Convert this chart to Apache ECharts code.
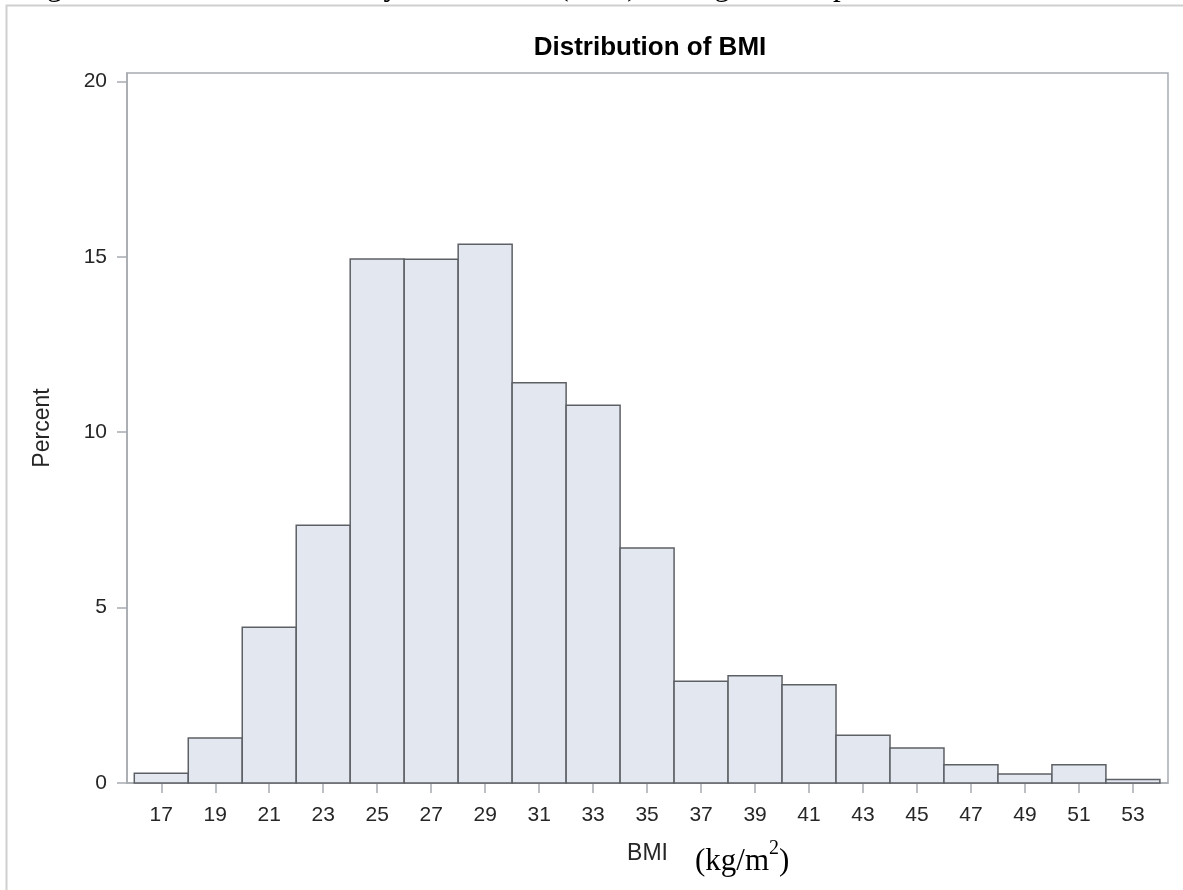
<!DOCTYPE html>
<html>
<head>
<meta charset="utf-8">
<title>Distribution of BMI</title>
<script src="https://cdn.jsdelivr.net/npm/echarts@6/dist/echarts.min.js"></script>
<style>
  html, body { margin: 0; padding: 0; background: #ffffff; }
  #chart { width: 1183px; height: 890px; }
</style>
</head>
<body>
<div id="chart"></div>
<script>
// Histogram bins: midpoints (bin width 2, kg/m^2) and share of subjects in each bin (%)
const binMidpoints = [17, 19, 21, 23, 25, 27, 29, 31, 33, 35, 37, 39, 41, 43, 45, 47, 49, 51, 53];
const percentValues = [0.28, 1.28, 4.44, 7.35, 14.94, 14.93, 15.36, 11.41, 10.77, 6.70, 2.90, 3.06, 2.80, 1.36, 1.00, 0.52, 0.26, 0.52, 0.10];
const binWidth = 2;

// Axis tick positions
const xTickValues = binMidpoints.slice();
const yTickValues = [0, 5, 10, 15, 20];

const captionText = 'Figure 1. Distribution of Body Mass Index (BMI) among the sample';
const titleText = 'Distribution of BMI';
const xAxisLabel = 'BMI';
const yAxisLabel = 'Percent';

const histogramData = binMidpoints.map((m, i) => [m - binWidth / 2, m + binWidth / 2, percentValues[i]]);

const axisGray = '#a7abb0';
const textDark = '#262626';
const sansFont = '"Liberation Sans", Arial, sans-serif';
const serifFont = '"Liberation Serif", "Times New Roman", serif';

const chart = echarts.init(document.getElementById('chart'), null, { renderer: 'canvas' });

chart.setOption({
  animation: false,
  backgroundColor: '#ffffff',
  title: {
    text: titleText,
    left: 645,
    textAlign: 'center',
    top: 30,
    textStyle: { fontFamily: sansFont, fontWeight: 'bold', fontSize: 26, color: '#000000' }
  },
  grid: {
    left: 127,
    right: 15,
    top: 73,
    bottom: 107,
    show: true,
    borderColor: axisGray,
    borderWidth: 1.5,
    backgroundColor: '#ffffff'
  },
  xAxis: {
    type: 'value',
    min: 15.73,
    max: 54.3,
    name: xAxisLabel,
    nameLocation: 'middle',
    nameGap: 59,
    nameTextStyle: { fontFamily: sansFont, fontSize: 23, color: textDark },
    axisLine: { show: true, lineStyle: { color: axisGray, width: 1.5 } },
    axisTick: { show: true, length: 10, lineStyle: { color: axisGray, width: 1.5 }, customValues: xTickValues },
    axisLabel: { fontFamily: sansFont, fontSize: 21, color: textDark, margin: 22, customValues: xTickValues },
    splitLine: { show: false }
  },
  yAxis: {
    type: 'value',
    min: 0,
    max: 20.24,
    name: yAxisLabel,
    nameLocation: 'middle',
    nameRotate: 90,
    nameGap: 73,
    nameTextStyle: { fontFamily: sansFont, fontSize: 23, color: textDark },
    axisLine: { show: true, lineStyle: { color: axisGray, width: 1.5 } },
    axisTick: { show: true, length: 10, lineStyle: { color: axisGray, width: 1.5 }, customValues: yTickValues },
    axisLabel: { fontFamily: sansFont, fontSize: 21, color: textDark, margin: 20, customValues: yTickValues },
    splitLine: { show: false }
  },
  series: [{
    type: 'custom',
    name: 'Percent',
    data: histogramData,
    encode: { x: [0, 1], y: 2 },
    renderItem: function (params, api) {
      const lo = api.value(0);
      const hi = api.value(1);
      const v = api.value(2);
      const topLeft = api.coord([lo, v]);
      const bottomRight = api.coord([hi, 0]);
      return {
        type: 'rect',
        shape: {
          x: topLeft[0],
          y: topLeft[1],
          width: bottomRight[0] - topLeft[0],
          height: bottomRight[1] - topLeft[1]
        },
        style: { fill: '#e3e7f0', stroke: '#5d6065', lineWidth: 1.5 }
      };
    }
  }],
  graphic: [
    {
      // page frame around the figure
      type: 'rect',
      silent: true,
      shape: { x: 6.5, y: 5.5, width: 1300, height: 1000 },
      style: { fill: 'none', stroke: '#cfcfcf', lineWidth: 2 },
      z: -1
    },
    {
      // caption line running above the figure (only its lowest strokes fall inside the page)
      type: 'text',
      silent: true,
      x: 21,
      y: 2,
      style: { text: captionText, font: '31px ' + serifFont, fill: '#000000', verticalAlign: 'bottom' }
    },
    {
      // unit next to the axis name: "(kg/m", raised "2", ")"
      type: 'text',
      silent: true,
      left: 695,
      top: 846,
      style: { text: '(kg/m', font: '31px ' + serifFont, fill: '#000000' }
    },
    {
      type: 'text',
      silent: true,
      left: 769,
      top: 839,
      style: { text: '2', font: '20px ' + serifFont, fill: '#000000' }
    },
    {
      type: 'text',
      silent: true,
      left: 779,
      top: 846,
      style: { text: ')', font: '31px ' + serifFont, fill: '#000000' }
    }
  ]
});
</script>
</body>
</html>
